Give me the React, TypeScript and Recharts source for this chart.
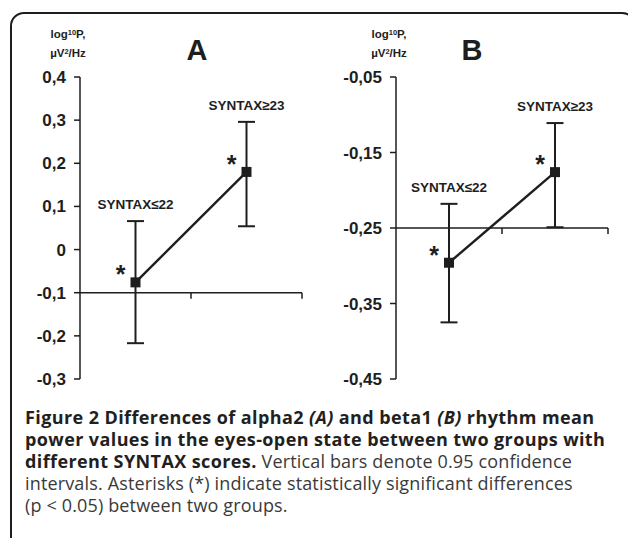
import React from "react"
import {
  ComposedChart,
  Line,
  XAxis,
  YAxis,
  ErrorBar,
  ReferenceLine,
  LabelList,
} from "recharts"

const groups = ["SYNTAX≤22", "SYNTAX≥23"]

// panel A: alpha2
const alphaMean = [-0.076, 0.18]
const alphaLow = [-0.217, 0.054]
const alphaHigh = [0.066, 0.296]
const alphaTicks = [-0.3, -0.2, -0.1, 0, 0.1, 0.2, 0.3, 0.4]

// panel B: beta1
const betaMean = [-0.296, -0.176]
const betaLow = [-0.375, -0.249]
const betaHigh = [-0.218, -0.111]
const betaTicks = [-0.45, -0.35, -0.25, -0.15, -0.05]

const INK = "#1e1e1e"

function buildRows(mean: number[], low: number[], high: number[]) {
  return groups.map((name, i) => ({
    name,
    x: i + 0.5,
    mean: mean[i],
    hi: high[i],
    err: [mean[i] - low[i], high[i] - mean[i]],
  }))
}

const fmt = (digits: number) => (v: number) =>
  Math.abs(v) < 1e-9 ? "0" : v.toFixed(digits).replace(".", ",")

function SquareDot(props: any) {
  const { cx, cy, index } = props
  if (cx == null || cy == null) return null
  return (
    <g key={`d${index}`}>
      <rect x={cx - 5} y={cy - 5} width={10} height={10} fill={INK} />
      <text
        x={cx - 15}
        y={cy + 1}
        textAnchor="middle"
        fontSize={25}
        fontWeight="bold"
        fontFamily="Liberation Sans, Arial, sans-serif"
        fill={INK}
      >
        *
      </text>
    </g>
  )
}

interface PanelProps {
  left: number
  width: number
  yAxisWidth: number
  rightMargin: number
  rows: ReturnType<typeof buildRows>
  domain: [number, number]
  ticks: number[]
  digits: number
  baseline: number
  tickDepth: number
}

function Panel(p: PanelProps) {
  return (
    <div style={{ position: "absolute", left: p.left, top: 0 }}>
      <ComposedChart
        width={p.width}
        height={400}
        data={p.rows}
        margin={{ top: 77, right: p.rightMargin, bottom: 21, left: 0 }}
      >
        <XAxis dataKey="x" type="number" domain={[0, 2]} hide />
        <YAxis
          type="number"
          domain={p.domain}
          ticks={p.ticks}
          width={p.yAxisWidth}
          tickSize={6}
          tickMargin={8}
          tickFormatter={fmt(p.digits)}
          axisLine={{ stroke: INK, strokeWidth: 1.5 }}
          tickLine={{ stroke: INK, strokeWidth: 1.5 }}
          tick={{
            fill: INK,
            fontSize: 17,
            fontWeight: "bold",
            fontFamily: "Liberation Sans, Arial, sans-serif",
          }}
          allowDataOverflow
        />
        <ReferenceLine y={p.baseline} stroke={INK} strokeWidth={1.5} />
        {[1, 2].map((t) => (
          <ReferenceLine
            key={t}
            segment={[
              { x: t, y: p.baseline },
              { x: t, y: p.baseline - p.tickDepth },
            ]}
            stroke={INK}
            strokeWidth={1.5}
          />
        ))}
        <Line
          dataKey="hi"
          stroke="none"
          dot={false}
          activeDot={false}
          legendType="none"
          isAnimationActive={false}
        >
          <LabelList
            dataKey="name"
            position="top"
            offset={12}
            fill={INK}
            fontSize={13.5}
            fontWeight="bold"
            fontFamily="Liberation Sans, Arial, sans-serif"
          />
        </Line>
        <Line
          dataKey="mean"
          stroke={INK}
          strokeWidth={2.4}
          dot={<SquareDot />}
          activeDot={false}
          isAnimationActive={false}
        >
          <ErrorBar
            dataKey="err"
            direction="y"
            width={8.5}
            stroke={INK}
            strokeWidth={2}
          />
        </Line>
      </ComposedChart>
    </div>
  )
}

const abs = (x: number, y: number): React.CSSProperties => ({
  position: "absolute",
  left: x,
  top: y,
})

function UnitLabel({ cx }: { cx: number }) {
  return (
    <div
      style={{
        ...abs(cx - 30, 24),
        width: 60,
        textAlign: "center",
        fontFamily: "Liberation Sans, Arial, sans-serif",
        fontWeight: "bold",
        fontSize: 11.5,
        lineHeight: "17px",
        color: INK,
      }}
    >
      <div>
        log<sup style={{ fontSize: 7.5, verticalAlign: "3px" }}>10</sup>P,
      </div>
      <div>
        µV<sup style={{ fontSize: 7.5, verticalAlign: "3px" }}>2</sup>/Hz
      </div>
    </div>
  )
}

function PanelTitle({ cx, text }: { cx: number; text: string }) {
  return (
    <div
      style={{
        ...abs(cx - 20, 32),
        width: 40,
        textAlign: "center",
        fontFamily: "Liberation Sans, Arial, sans-serif",
        fontWeight: "bold",
        fontSize: 29,
        lineHeight: "36px",
        color: INK,
      }}
    >
      {text}
    </div>
  )
}

const captionLine: React.CSSProperties = {
  fontFamily: "'Open Sans', sans-serif",
  fontSize: 18,
  lineHeight: "22px",
  whiteSpace: "nowrap",
  color: "#3a3a3a",
  letterSpacing: 0.15,
}

const boldLine: React.CSSProperties = {
  ...captionLine,
  fontWeight: 700,
  color: "#231f20",
  letterSpacing: 0.4,
}

export default function App() {
  const rowsA = buildRows(alphaMean, alphaLow, alphaHigh)
  const rowsB = buildRows(betaMean, betaLow, betaHigh)
  return (
    <div
      style={{
        position: "relative",
        width: 628,
        height: 538,
        overflow: "hidden",
        background: "#fff",
      }}
    >
      <style>{`body{margin:0}`}</style>
      <div
        style={{
          position: "absolute",
          left: 10,
          top: 12,
          width: 622,
          height: 600,
          border: `2px solid ${INK}`,
          borderRadius: 14,
        }}
      />
      <Panel
        left={0}
        width={320}
        yAxisWidth={80}
        rightMargin={18}
        rows={rowsA}
        domain={[-0.3, 0.4]}
        ticks={alphaTicks}
        digits={1}
        baseline={-0.1}
        tickDepth={0.014}
      />
      <Panel
        left={310}
        width={318}
        yAxisWidth={86}
        rightMargin={20}
        rows={rowsB}
        domain={[-0.45, -0.05]}
        ticks={betaTicks}
        digits={2}
        baseline={-0.25}
        tickDepth={0.008}
      />
      <UnitLabel cx={68} />
      <UnitLabel cx={389} />
      <PanelTitle cx={197} text="A" />
      <PanelTitle cx={472} text="B" />
      <div style={abs(25, 406)}>
        <div style={boldLine}>
          Figure 2 Differences of alpha2 <i>(A)</i> and beta1 <i>(B)</i> rhythm mean
        </div>
        <div style={boldLine}>
          power values in the eyes-open state between two groups with
        </div>
        <div style={captionLine}>
          <b style={{ ...boldLine, display: "inline" }}>different SYNTAX scores.</b>{" "}
          Vertical bars denote 0.95 confidence
        </div>
        <div style={captionLine}>
          intervals. Asterisks (*) indicate statistically significant differences
        </div>
        <div style={captionLine}>(p &lt; 0.05) between two groups.</div>
      </div>
    </div>
  )
}
